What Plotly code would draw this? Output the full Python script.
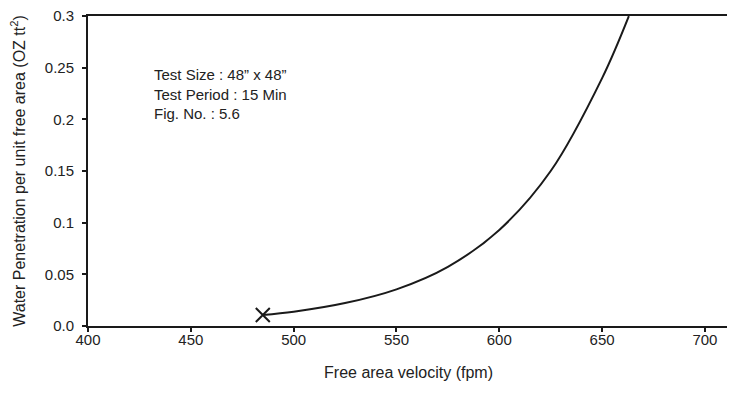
import plotly.graph_objs as go

# Curva (velocidade x penetração de água)
velocidade = [485, 500, 525, 550, 575, 600, 625, 650, 663]
penetracao = [0.0106, 0.0138, 0.0222, 0.0355, 0.0573, 0.093, 0.150, 0.240, 0.300]

x_ticks = [400, 450, 500, 550, 600, 650, 700]
y_ticks = [0.0, 0.05, 0.1, 0.15, 0.2, 0.25, 0.3]
y_ticklabels = ['0.0', '0.05', '0.1', '0.15', '0.2', '0.25', '0.3']

nota = "Test Size : 48\u201d x 48\u201d<br>Test Period : 15 Min<br>Fig. No. : 5.6"

fig = go.Figure()

fig.add_trace(go.Scatter(
    x=velocidade, y=penetracao,
    mode='lines',
    line=dict(color='#1a1a1a', width=2, shape='spline', smoothing=1.0),
    showlegend=False
))

# marcador "x" no primeiro ponto
fig.add_trace(go.Scatter(
    x=velocidade[:1], y=penetracao[:1],
    mode='markers',
    marker=dict(symbol='x-thin', size=14, line=dict(color='#1a1a1a', width=2)),
    showlegend=False
))

fig.add_annotation(
    text=nota, xref='paper', yref='paper', x=0.1, y=0.845,
    xanchor='left', yanchor='top', align='left', showarrow=False,
    font=dict(size=15, color='#222')
)

# o corpo da página tem margem de ~8px, por isso a figura fica 8px menor
fig.update_layout(
    width=727, height=406,
    paper_bgcolor='white', plot_bgcolor='white',
    font=dict(family='Liberation Sans, Arial, sans-serif', size=15, color='#222'),
    margin=dict(l=80, r=6, t=8, b=88, autoexpand=False),
    xaxis=dict(
        range=[400, 711.7], tickvals=x_ticks, automargin=False,
        showline=True, linewidth=2, linecolor='#1a1a1a', mirror=True,
        ticks='outside', ticklen=4, tickwidth=2, tickcolor='#1a1a1a',
        showgrid=False, zeroline=False, ticklabelstandoff=-5,
        title=dict(text='Free area velocity (fpm)', font=dict(size=16), standoff=20)
    ),
    yaxis=dict(
        range=[0, 0.3001], tickvals=y_ticks, ticktext=y_ticklabels, automargin=False,
        showline=True, linewidth=2, linecolor='#1a1a1a', mirror=True,
        ticks='outside', ticklen=4, tickwidth=2, tickcolor='#1a1a1a',
        showgrid=False, zeroline=False, ticklabelstandoff=5,
        ticklabeloverflow='allow',
        title=dict(text='Water Penetration per unit free area (OZ tt<sup>2</sup>)',
                   font=dict(size=16), standoff=16)
    )
)

fig.write_html("out.html")
